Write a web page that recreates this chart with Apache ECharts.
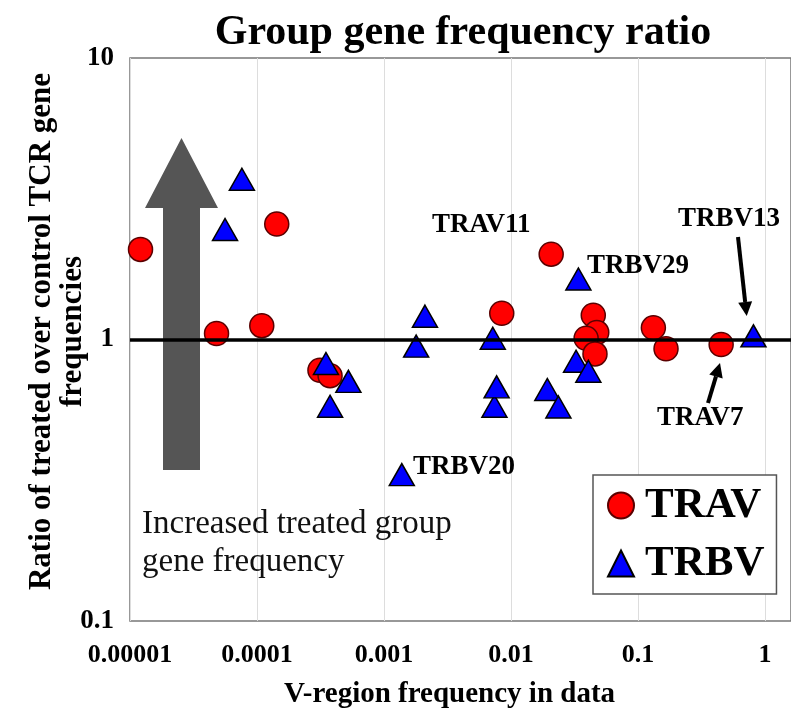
<!DOCTYPE html>
<html>
<head>
<meta charset="utf-8">
<script src="https://cdn.jsdelivr.net/npm/echarts@6/dist/echarts.min.js"></script>
<style>
  html, body { margin: 0; padding: 0; background: #fff; }
  #chart { width: 791px; height: 711px; }
</style>
</head>
<body>
<div id="chart"></div>
<script>
// V-region frequency (x) and treated/control ratio (y)
var travX = [1.21e-5, 4.8e-5, 1.09e-4, 1.43e-4, 3.13e-4, 3.76e-4, 8.45e-3, 0.0207, 0.0444, 0.0473, 0.039, 0.0458, 0.132, 0.166, 0.451];
var travY = [2.09, 1.05, 1.12, 2.57, 0.778, 0.744, 1.24, 2.01, 1.22, 1.06, 1.01, 0.889, 1.10, 0.927, 0.96];

var trbvX = [5.6e-5, 7.6e-5, 3.49e-4, 3.76e-4, 5.24e-4, 1.38e-3, 1.79e-3, 2.1e-3, 7.18e-3, 7.4e-3, 7.7e-3, 0.0193, 0.0236, 0.0325, 0.0339, 0.0406, 0.81];
var trbvY = [2.46, 3.71, 0.822, 0.579, 0.71, 0.331, 0.947, 1.21, 1.01, 0.579, 0.679, 0.664, 0.576, 0.837, 1.64, 0.771, 1.03];

var xTickLabels = ['0.00001', '0.0001', '0.001', '0.01', '0.1', '1'];
var yTickLabels = ['0.1', '1', '10'];

var serif = 'Liberation Serif';

function pairs(xs, ys) {
  return xs.map(function (x, i) { return [x, ys[i]]; });
}

// small black arrow: shaft + head, tip at (x2, y2)
function arrow(x1, y1, x2, y2) {
  var dx = x2 - x1, dy = y2 - y1;
  var len = Math.sqrt(dx * dx + dy * dy);
  var ux = dx / len, uy = dy / len;
  var hl = 14, hw = 7;
  var bx = x2 - ux * hl, by = y2 - uy * hl;
  return [
    { type: 'line', shape: { x1: x1, y1: y1, x2: bx, y2: by }, style: { stroke: '#000', lineWidth: 4 }, z: 10 },
    { type: 'polygon', shape: { points: [[x2, y2], [bx - uy * hw, by + ux * hw], [bx + uy * hw, by - ux * hw]] }, style: { fill: '#000' }, z: 10 }
  ];
}

function note(text, x, y) {
  return {
    type: 'text', x: x, y: y, z: 10,
    style: { text: text, font: 'bold 27px "' + serif + '"', fill: '#000', align: 'left', verticalAlign: 'middle' }
  };
}

var chart = echarts.init(document.getElementById('chart'));

var option = {
  backgroundColor: '#fff',
  animation: false,
  title: {
    text: 'Group gene frequency ratio',
    left: 458,
    textAlign: 'center',
    top: 7,
    textStyle: { fontFamily: serif, fontWeight: 'bold', fontSize: 42, color: '#000' }
  },
  grid: {
    left: 130, right: 0, top: 58, bottom: 90,
    show: true, borderColor: '#777', borderWidth: 1.5,
    outerBoundsMode: 'none'
  },
  legend: {
    orient: 'vertical',
    left: 593, top: 475,
    selectedMode: false,
    itemWidth: 26, itemHeight: 26,
    itemGap: 13,
    padding: [8, 12, 8, 14],
    backgroundColor: '#fff',
    borderColor: '#555', borderWidth: 1.5,
    textStyle: { fontFamily: serif, fontWeight: 'bold', fontSize: 43, color: '#000', padding: [0, 0, 0, 6], lineHeight: 45 },
    data: ['TRAV', 'TRBV']
  },
  xAxis: {
    type: 'log', logBase: 10,
    min: 1e-5, max: 1.6,
    name: 'V-region frequency in data',
    nameLocation: 'middle', nameGap: 59,
    nameMoveOverlap: false,
    nameTextStyle: { fontFamily: serif, fontWeight: 'bold', fontSize: 29, color: '#000', padding: [0, 22, 0, 0] },
    axisLine: { show: false },
    axisTick: { show: false },
    splitLine: { show: true, lineStyle: { color: '#ddd', width: 1 } },
    axisLabel: {
      margin: 21,
      fontFamily: serif, fontWeight: 'bold', fontSize: 26, color: '#000',
      formatter: function (v) {
        var k = Math.log10(v);
        var r = Math.round(k);
        if (Math.abs(k - r) > 1e-6) return '';
        return xTickLabels[r + 5] || '';
      }
    }
  },
  yAxis: {
    type: 'log', logBase: 10,
    min: 0.1, max: 10,
    name: 'Ratio of treated over control TCR gene\nfrequencies',
    nameLocation: 'middle', nameGap: 42,
    nameMoveOverlap: false,
    nameTextStyle: { fontFamily: serif, fontWeight: 'bold', fontSize: 31, color: '#000', lineHeight: 31, padding: [0, 0, 0, 16] },
    axisLine: { show: false },
    axisTick: { show: false },
    splitLine: { show: false },
    axisLabel: {
      margin: 16,
      fontFamily: serif, fontWeight: 'bold', fontSize: 27, color: '#000',
      formatter: function (v) {
        var r = Math.round(Math.log10(v));
        return yTickLabels[r + 1] || '';
      }
    }
  },
  series: [
    {
      name: 'ref',
      type: 'scatter',
      data: [],
      z: 1,
      silent: true,
      markLine: {
        silent: true,
        symbol: 'none',
        label: { show: false },
        lineStyle: { color: '#000', width: 3.5, type: 'solid' },
        data: [{ yAxis: 1 }]
      }
    },
    {
      name: 'TRAV',
      type: 'scatter',
      symbol: 'circle',
      symbolSize: 24,
      z: 3,
      itemStyle: { color: '#ff0000', borderColor: '#5a0000', borderWidth: 1.5, opacity: 1 },
      data: pairs(travX, travY)
    },
    {
      name: 'TRBV',
      type: 'scatter',
      symbol: 'triangle',
      symbolSize: [25, 22],
      z: 4,
      itemStyle: { color: '#0000ff', borderColor: '#000', borderWidth: 1.5, opacity: 1 },
      data: pairs(trbvX, trbvY)
    }
  ],
  graphic: [
    {
      type: 'polygon', z: 2,
      shape: { points: [[163, 470], [200, 470], [200, 208], [218, 208], [181.5, 138], [145, 208], [163, 208]] },
      style: { fill: '#555' }
    },
    {
      type: 'text', x: 142, y: 505, z: 10,
      style: {
        text: 'Increased treated group\ngene frequency',
        font: '33px "' + serif + '"', lineHeight: 38, fill: '#111', align: 'left', verticalAlign: 'top'
      }
    },
    note('TRAV11', 432, 225),
    note('TRBV29', 587, 266),
    note('TRBV13', 678, 219),
    note('TRAV7', 657, 418),
    note('TRBV20', 413, 467)
  ].concat(arrow(738, 237, 746.7, 316)).concat(arrow(708, 403, 720, 363))
};

chart.setOption(option);
</script>
</body>
</html>
